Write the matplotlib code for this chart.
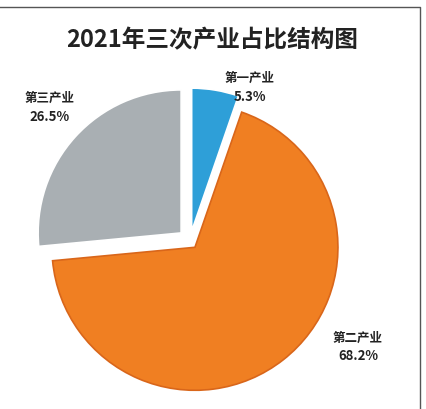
import matplotlib
matplotlib.use('Agg')
import matplotlib.pyplot as plt

plt.rcParams['font.family'] = ['Noto Sans CJK SC', 'DejaVu Sans']

# Dane
kategorie = ['第一产业', '第二产业', '第三产业']
udzial = [5.3, 68.2, 26.5]
kolory = ['#2E9FD8', '#F07F22', '#A9AFB3']
krawedzie = ['white', '#D9661A', 'white']

fig = plt.figure(figsize=(4.27, 4.10), dpi=100)
ax = fig.add_axes([0, 0, 1, 1])

# explode w jednostkach danych (piksele), nie ułamek promienia
kliny, _ = ax.pie(udzial, colors=kolory, startangle=90, counterclock=False,
                  explode=[10, 8, 12], center=(190, 168), radius=143,
                  wedgeprops=dict(linewidth=1.2))
for k, e in zip(kliny, krawedzie):
    k.set_edgecolor(e)

ax.set_xlim(0, 427)
ax.set_ylim(0, 410)
ax.set_aspect('equal')
ax.axis('off')

# Ramka u góry i po prawej
ax.plot([0, 420, 420], [402, 402, 0], color='#555555', linewidth=1)

ax.text(212, 370, '2021年三次产业占比结构图', ha='center', va='center',
        fontsize=17, fontweight='bold', color='#222222')

etykiety = [(250, 332, 313), (358, 72, 54), (50, 312, 293)]
for nazwa, v, (x, y1, y2) in zip(kategorie, udzial, etykiety):
    ax.text(x, y1, nazwa, ha='center', va='center', fontsize=9,
            fontweight='bold', color='#222222')
    ax.text(x, y2, f'{v}%', ha='center', va='center', fontsize=9.5,
            fontweight='bold', color='#222222')

fig.savefig('out.png', dpi=100)
